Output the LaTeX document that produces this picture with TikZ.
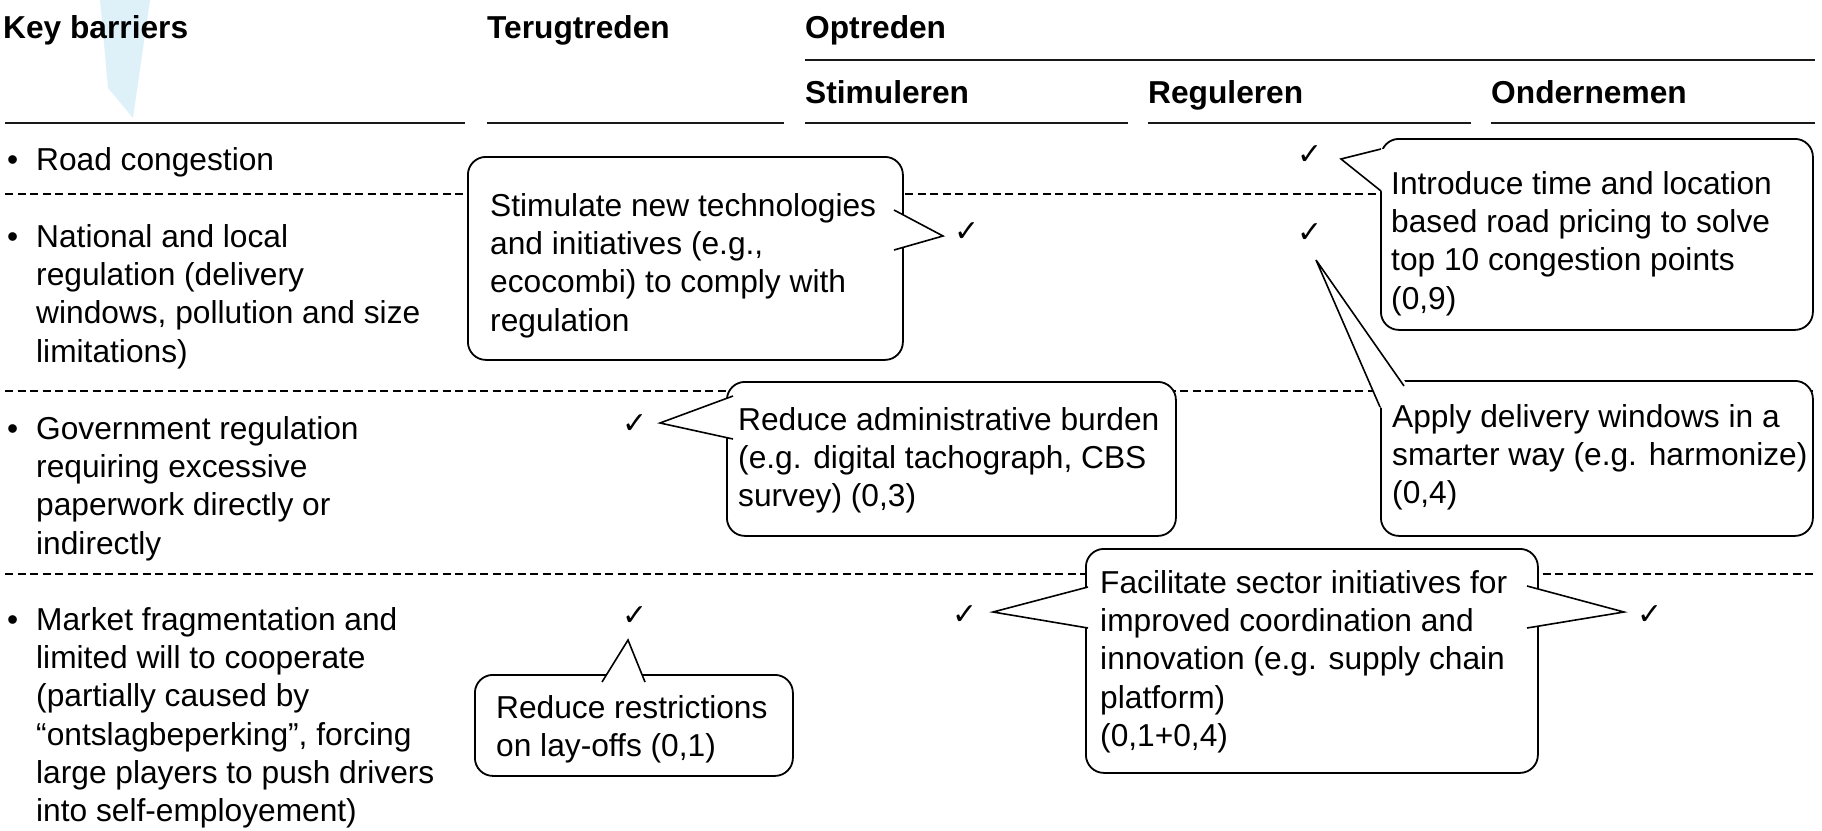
\documentclass[tikz,border=0pt]{standalone}
\usepackage{fontspec}
\setmainfont{Liberation Sans}
\newfontfamily\chkfont{DejaVu Sans}
\definecolor{iceblue}{RGB}{222,241,249}
\newcommand\firstrule{\rule{0pt}{25pt}}
\newcommand\callptr[4]{%
  \fill[white] (#1) -- (#2) -- (#3) -- ([shift={(#4)}]#3) -- ([shift={(#4)}]#1) -- cycle;
  \draw[ptr] (#1) -- (#2) -- (#3);}
\tikzset{
  hdr/.style={font=\bfseries\fontsize{31.7}{38}\selectfont, anchor=base west, inner sep=0pt},
  body/.style={font=\fontsize{31.7}{38.3}\selectfont, align=left, anchor=north west, inner sep=0pt},
  ctext/.style={font=\fontsize{31.7}{38.3}\selectfont, align=left, anchor=north west, inner sep=0pt},
  bul/.style={font=\fontsize{31.7}{38.3}\selectfont, anchor=base west, inner sep=0pt},
  hline/.style={line width=2.2pt, black!90},
  dline/.style={line width=1.4pt, dash pattern=on 8pt off 4.5pt},
  callout/.style={draw, line width=1.8pt, rounded corners=18pt, fill=white, anchor=north west, inner sep=0pt},
  ptr/.style={line width=1.6pt, line join=miter},
  chk/.style={font=\chkfont\fontsize{30}{30}\selectfont, inner sep=0pt},
}
\begin{document}
\begin{tikzpicture}[x=1pt, y=-1pt]
\useasboundingbox (0,0) rectangle (1822,830);
% light blue shape
\fill[iceblue] (100,0) -- (150,0) -- (133,118) -- (108,88) -- cycle;
% headers
\node[hdr] (hKey) at (3,38) {Key barriers};
\node[hdr] (hTer) at (487,38) {Terugtreden};
\node[hdr] (hOpt) at (805,38) {Optreden};
\node[hdr] (hSti) at (805,103) {Stimuleren};
\node[hdr] (hReg) at (1148,103) {Reguleren};
\node[hdr] (hOnd) at (1491,103) {Ondernemen};
\draw[hline] (805,60) -- (1815,60);
\draw[hline] (5,123) -- (465,123);
\draw[hline] (487,123) -- (784,123);
\draw[hline] (805,123) -- (1128,123);
\draw[hline] (1148,123) -- (1471,123);
\draw[hline] (1491,123) -- (1815,123);
% dashed separators
\draw[dline] (5,194) -- (1815,194);
\draw[dline] (5,391) -- (1815,391);
\draw[dline] (5,574) -- (1815,574);
% left column
\node[bul] (b1) at (7,170) {•};
\node[body] (r1) at (36,145) {\firstrule Road congestion};
\node[bul] (b2) at (7,247) {•};
\node[body] (r2) at (36,222) {\firstrule National and local\\regulation (delivery\\windows, pollution and size\\limitations)};
\node[bul] (b3) at (7,439) {•};
\node[body] (r3) at (36,414) {\firstrule Government regulation\\requiring excessive\\paperwork directly or\\indirectly};
\node[bul] (b4) at (7,630) {•};
\node[body] (r4) at (36,605) {\firstrule Market fragmentation and\\limited will to cooperate\\(partially caused by\\“ontslagbeperking”, forcing\\large players to push drivers\\into self-employement)};
% callout boxes
\node[callout, minimum width=435pt, minimum height=203pt] (bA) at (467,156) {};
\node[callout, minimum width=432pt, minimum height=191pt] (bB) at (1380,138) {};
\node[callout, minimum width=432pt, minimum height=155pt] (bC) at (1380,380) {};
\node[callout, minimum width=449pt, minimum height=154pt] (bD) at (726,381) {};
\node[callout, minimum width=452pt, minimum height=224pt] (bE) at (1085,548) {};
\node[callout, minimum width=318pt, minimum height=101pt] (bF) at (474,674) {};
% callout texts
\node[ctext] (tA) at (490,191) {\firstrule Stimulate new technologies\\and initiatives (e.g.,\\ecocombi) to comply with\\regulation};
\node[ctext] (tB) at (1391,169) {\firstrule Introduce time and location\\based road pricing to solve\\top 10 congestion points\\(0,9)};
\node[ctext] (tC) at (1392,402) {\firstrule Apply delivery windows in a\\smarter way (e.g. harmonize)\\(0,4)};
\node[ctext] (tD) at (738,405) {\firstrule Reduce administrative burden\\(e.g. digital tachograph, CBS\\survey) (0,3)};
\node[ctext] (tE) at (1100,568) {\firstrule Facilitate sector initiatives for\\improved coordination and\\innovation (e.g. supply chain\\platform)\\(0,1+0,4)};
\node[ctext] (tF) at (496,693) {\firstrule Reduce restrictions\\on lay-offs (0,1)};
% check marks
\node[chk] (c1) at (1310,155) {✓};
\node[chk] (c2) at (967,232) {✓};
\node[chk] (c3) at (1310,233) {✓};
\node[chk] (c4) at (635,424) {✓};
\node[chk] (c5) at (635,616) {✓};
\node[chk] (c6) at (965,615) {✓};
\node[chk] (c7) at (1650,615) {✓};
% pointer tips
\coordinate (pA) at (943,236);
\coordinate (pB) at (1341,159);
\coordinate (pC) at (1316,260);
\coordinate (pD) at (660,423);
\coordinate (pEl) at (993,612);
\coordinate (pEr) at (1624,612);
\coordinate (pF) at (628,640);
% pointers
\callptr{894,210}{pA}{894,250}{-3,0}
\callptr{1381,149}{pB}{1381,191}{4,0}
\fill[white] (pC) -- (1404,380) -- (1408,386) -- (1386,410) -- (1380,407) -- cycle;
\draw[ptr] (1404,386) -- (pC) -- (1380,407);
\callptr{733,396}{pD}{733,439}{3,0}
\callptr{1088,587}{pEl}{1088,628}{3,0}
\callptr{1527,586}{pEr}{1527,628}{-3,0}
\callptr{602,682}{pF}{645,682}{0,3}
\end{tikzpicture}
\end{document}
